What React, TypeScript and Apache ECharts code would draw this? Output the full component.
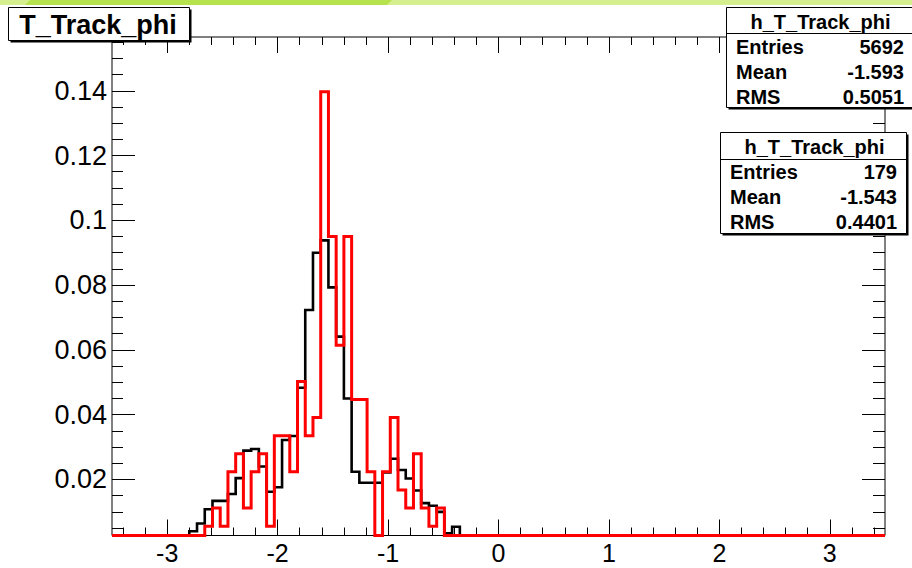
import React, { useEffect, useRef } from "react";
import * as echarts from "echarts";

// Histogram binning: 100 bins over [-3.5, 3.5]
const X_MIN = -3.5;
const X_MAX = 3.5;
const N_BINS = 100;

// Vertical range of the frame
const Y_MIN = 0.0027;
const Y_MAX = 0.1566;

// All tracks, normalised bin contents, starting at bin ALL_FIRST_BIN
const ALL_FIRST_BIN = 10;
const allTracks = [
  0.004, 0.0064, 0.0108, 0.0134, 0.0134, 0.0155, 0.0204, 0.0289, 0.0294, 0.024,
  0.0162, 0.0176, 0.0322, 0.0334, 0.0483, 0.0723, 0.09, 0.0938, 0.0793, 0.0641,
  0.045, 0.0224, 0.019, 0.019, 0.019, 0.0222, 0.0264, 0.0229, 0.0203, 0.0166,
  0.0127, 0.0119, 0.01, 0.0034, 0.0054,
];

// Selected tracks, raw counts starting at bin SEL_FIRST_BIN (normalised by SEL_ENTRIES)
const SEL_FIRST_BIN = 12;
const SEL_ENTRIES = 179;
const selCounts = [
  1, 2, 1, 4, 5, 2, 4, 5, 1, 6, 6, 4, 9, 6, 7, 25, 17, 11, 17, 8, 8, 4, 0, 4, 7,
  3, 2, 5, 2, 1, 2,
];

// Tick sets: [first, last, step]
const X_MAJOR: [number, number, number] = [-3, 3, 1];
const X_MINOR: [number, number, number] = [-3.4, 3.4, 0.2];
const Y_MAJOR: [number, number, number] = [0.02, 0.14, 0.02];
const Y_MINOR: [number, number, number] = [0.005, 0.155, 0.005];

const TITLE = "T_Track_phi";
const statsAll = {
  name: "h_T_Track_phi",
  rows: [
    ["Entries", "5692"],
    ["Mean", "-1.593"],
    ["RMS", "0.5051"],
  ],
};
const statsSel = {
  name: "h_T_Track_phi",
  rows: [
    ["Entries", "179"],
    ["Mean", "-1.543"],
    ["RMS", "0.4401"],
  ],
};

const W = 912;
const H = 568;
const PLOT = { left: 112, top: 37, width: 773, height: 498.5 };
const FONT = "'Liberation Sans', Arial, Helvetica, sans-serif";
const OVERLAY_Z = 100;

function stepPoints(values: number[], firstBin: number, scale: number) {
  const pts: [number, number][] = [];
  const bw = (X_MAX - X_MIN) / N_BINS;
  for (let k = 0; k < N_BINS; k++) {
    const i = k - firstBin;
    const v = i >= 0 && i < values.length ? values[i] / scale : 0;
    const y = Math.max(v, Y_MIN);
    const x0 = X_MIN + k * bw;
    pts.push([x0, y], [x0 + bw, y]);
  }
  return pts;
}

function xSubGrid(a: number, b: number) {
  const s = PLOT.width / (X_MAX - X_MIN);
  return {
    left: PLOT.left + (a - X_MIN) * s,
    width: (b - a) * s,
    top: PLOT.top,
    height: PLOT.height,
    show: false,
    containLabel: false,
    outerBoundsMode: "none",
  };
}

function ySubGrid(a: number, b: number) {
  const s = PLOT.height / (Y_MAX - Y_MIN);
  return {
    left: PLOT.left,
    width: PLOT.width,
    top: PLOT.top + (Y_MAX - b) * s,
    height: (b - a) * s,
    show: false,
    containLabel: false,
    outerBoundsMode: "none",
  };
}

const tickLine = { color: "#000", width: 1 };

function xTickAxis(
  grid: number,
  t: [number, number, number],
  position: "top" | "bottom",
  len: number,
  labels: boolean
) {
  return {
    type: "value",
    gridIndex: grid,
    min: t[0],
    max: t[1],
    interval: t[2],
    position,
    axisLine: { show: false },
    splitLine: { show: false },
    axisTick: { show: true, inside: true, length: len, lineStyle: tickLine },
    axisLabel: {
      show: labels,
      margin: 5,
      color: "#000",
      fontSize: 25,
      fontFamily: FONT,
      formatter: (v: number) => String(Math.round(v)),
    },
  };
}

function yTickAxis(
  grid: number,
  t: [number, number, number],
  position: "left" | "right",
  len: number,
  labels: boolean
) {
  return {
    type: "value",
    gridIndex: grid,
    min: t[0],
    max: t[1],
    interval: t[2],
    position,
    axisLine: { show: false },
    splitLine: { show: false },
    axisTick: { show: true, inside: true, length: len, lineStyle: tickLine },
    axisLabel: {
      show: labels,
      margin: 5,
      color: "#000",
      fontSize: 27,
      fontFamily: FONT,
      formatter: (v: number) => String(+v.toFixed(3)),
    },
  };
}

const hiddenX = (grid: number) => ({ type: "value", gridIndex: grid, show: false, min: 0, max: 1 });
const hiddenY = (grid: number) => ({ type: "value", gridIndex: grid, show: false, min: 0, max: 1 });

// Put every overlay element above axes and series
function lift(el: any): any {
  const out = { ...el, z: OVERLAY_Z };
  if (el.children) out.children = el.children.map(lift);
  return out;
}

function textEl(text: string, x: number, y: number, size: number, align: string) {
  return {
    type: "text",
    x,
    y,
    style: {
      text,
      fill: "#000",
      fontSize: size,
      fontWeight: "bold",
      fontFamily: FONT,
      align,
      verticalAlign: "middle",
      textAlign: align,
      textVerticalAlign: "middle",
    },
  };
}

function statBox(
  x: number,
  y: number,
  w: number,
  h: number,
  headerH: number,
  rowYs: number[],
  labelX: number,
  valueX: number,
  stats: { name: string; rows: string[][] }
) {
  const children: any[] = [
    { type: "rect", shape: { x: x + 2, y: y + 2, width: w, height: h }, style: { fill: "#000" } },
    {
      type: "rect",
      shape: { x, y, width: w, height: h },
      style: { fill: "#fff", stroke: "#000", lineWidth: 1 },
    },
    {
      type: "line",
      shape: { x1: x, y1: y + headerH, x2: x + w, y2: y + headerH },
      style: { stroke: "#000", lineWidth: 1 },
    },
    textEl(stats.name, x + 94, y + headerH / 2 + 1, 20, "center"),
  ];
  stats.rows.forEach((r, i) => {
    children.push(textEl(r[0], labelX, rowYs[i], 20, "left"), textEl(r[1], valueX, rowYs[i], 20, "right"));
  });
  return lift({ type: "group", children });
}

export default function App() {
  const ref = useRef<HTMLDivElement>(null);

  useEffect(() => {
    if (!ref.current) return;
    const chart = echarts.init(ref.current, undefined, { renderer: "svg", width: W, height: H });

    const option: any = {
      animation: false,
      backgroundColor: "#fff",
      grid: [
        {
          left: PLOT.left,
          top: PLOT.top,
          width: PLOT.width,
          height: PLOT.height,
          show: true,
          borderColor: "#000",
          borderWidth: 1,
          backgroundColor: "transparent",
          containLabel: false,
          outerBoundsMode: "none",
        },
        xSubGrid(X_MAJOR[0], X_MAJOR[1]),
        xSubGrid(X_MINOR[0], X_MINOR[1]),
        ySubGrid(Y_MAJOR[0], Y_MAJOR[1]),
        ySubGrid(Y_MINOR[0], Y_MINOR[1]),
      ],
      xAxis: [
        { type: "value", gridIndex: 0, min: X_MIN, max: X_MAX, show: false },
        xTickAxis(1, X_MAJOR, "bottom", 16, true),
        xTickAxis(1, X_MAJOR, "top", 16, false),
        xTickAxis(2, X_MINOR, "bottom", 8, false),
        xTickAxis(2, X_MINOR, "top", 8, false),
        hiddenX(3),
        hiddenX(4),
      ],
      yAxis: [
        { type: "value", gridIndex: 0, min: Y_MIN, max: Y_MAX, show: false },
        hiddenY(1),
        hiddenY(2),
        yTickAxis(3, Y_MAJOR, "left", 23, true),
        yTickAxis(3, Y_MAJOR, "right", 23, false),
        yTickAxis(4, Y_MINOR, "left", 11, false),
        yTickAxis(4, Y_MINOR, "right", 12, false),
      ],
      series: [
        {
          name: "all",
          type: "line",
          xAxisIndex: 0,
          yAxisIndex: 0,
          data: stepPoints(allTracks, ALL_FIRST_BIN, 1),
          symbol: "none",
          showSymbol: false,
          clip: false,
          silent: true,
          z: 3,
          lineStyle: { color: "#000", width: 2.6, join: "miter", cap: "butt" },
        },
        {
          name: "selected",
          type: "line",
          xAxisIndex: 0,
          yAxisIndex: 0,
          data: stepPoints(selCounts, SEL_FIRST_BIN, SEL_ENTRIES),
          symbol: "none",
          showSymbol: false,
          clip: false,
          silent: true,
          z: 4,
          lineStyle: { color: "#ff0000", width: 3, join: "miter", cap: "butt" },
        },
      ],
      graphic: [
        // decorative band along the top edge
        lift({ type: "rect", shape: { x: 0, y: 0, width: W, height: 5 }, style: { fill: "#d5ef8e" } }),
        lift({
          type: "polygon",
          shape: { points: [[30, 0], [392, 0], [387, 5], [25, 5]] },
          style: { fill: "#b6e24d" },
        }),
        // title box
        lift({
          type: "group",
          children: [
            { type: "rect", shape: { x: 10.5, y: 9.5, width: 181, height: 33 }, style: { fill: "#000" } },
            {
              type: "rect",
              shape: { x: 8.5, y: 7.5, width: 181, height: 33 },
              style: { fill: "#fff", stroke: "#000", lineWidth: 1 },
            },
            textEl(TITLE, 98, 25, 27, "center"),
          ],
        }),
        statBox(726.5, 7.5, 192, 100, 26, [46.5, 71.5, 96.5], 736, 904, statsAll),
        statBox(720.5, 132.5, 186, 101, 27, [172, 197, 221.5], 730, 897, statsSel),
      ],
    };

    chart.setOption(option);
    return () => chart.dispose();
  }, []);

  return (
    <div
      ref={ref}
      style={{ position: "fixed", left: 0, top: 0, width: W, height: H, background: "#fff" }}
    />
  );
}
